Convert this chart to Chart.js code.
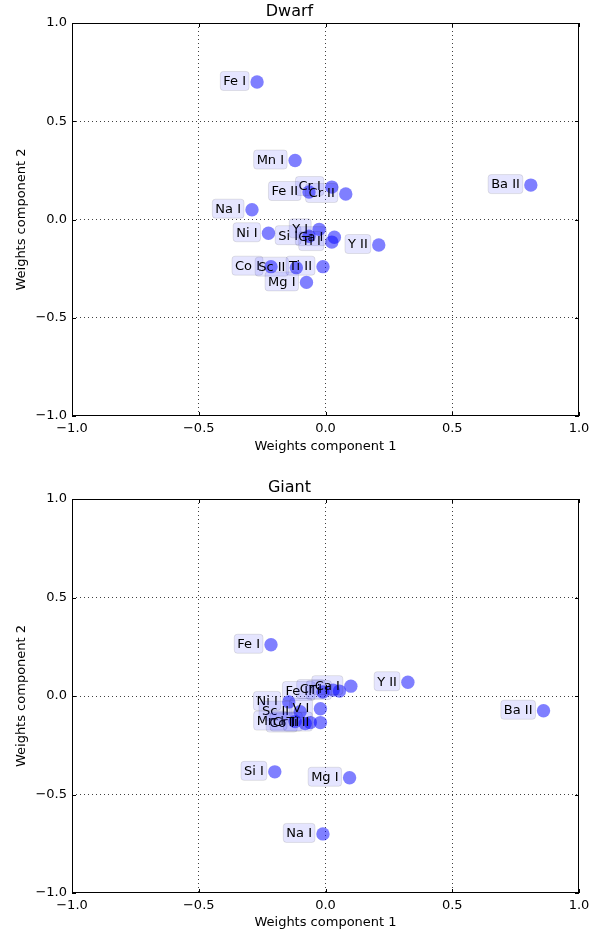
<!DOCTYPE html>
<html>
<head>
<meta charset="utf-8">
<script src="https://cdn.jsdelivr.net/npm/chart.js@4.4.0/dist/chart.umd.min.js"></script>
<style>
  body { margin: 0; background: #fff; }
  canvas { display: block; }
</style>
</head>
<body>
<canvas id="dwarf" width="606" height="466"></canvas>
<canvas id="giant" width="606" height="467"></canvas>
<script>
// Dwarf panel
const dwarfLabels = ['Fe I', 'Mn I', 'Cr I', 'Fe II', 'Cr II', 'Na I', 'Ba II', 'Ni I', 'Si I',
                     'Y I', 'Ca I', 'Ti I', 'Y II', 'Co I', 'Sc II', 'Ti II', 'Mg I'];
const dwarfX = [-0.27, -0.12, 0.025, -0.065, 0.08, -0.29, 0.81, -0.225, -0.065,
                -0.025, 0.035, 0.025, 0.21, -0.215, -0.115, -0.01, -0.075];
const dwarfY = [0.70, 0.30, 0.165, 0.14, 0.13, 0.05, 0.175, -0.07, -0.085,
                -0.05, -0.09, -0.115, -0.13, -0.24, -0.245, -0.24, -0.32];

// Giant panel
const giantLabels = ['Fe I', 'Y II', 'Ba II', 'Si I', 'Mg I', 'Na I', 'Ni I', 'V I', 'Sc II',
                     'Mn I', 'Co I', 'Cr II', 'Ti II', 'Fe II', 'Cr I', 'Ti I', 'Ca I'];
const giantX = [-0.215, 0.325, 0.86, -0.20, 0.095, -0.01, -0.145, -0.02, -0.10,
                -0.12, -0.08, -0.06, -0.02, -0.01, 0.03, 0.055, 0.10];
const giantY = [0.26, 0.07, -0.075, -0.385, -0.415, -0.70, -0.03, -0.065, -0.08,
                -0.13, -0.14, -0.135, -0.135, 0.02, 0.03, 0.025, 0.05];

const tickValues = [-1, -0.5, 0, 0.5, 1];

const FONT = 'DejaVu Sans';

function fmtTick(v) {
    return v.toFixed(1).replace('-', '\u2212');
}

// ── labels in rounded boxes, to the left of each point ──
const pointLabels = {
    id: 'pointLabels',
    afterDatasetsDraw(chart, args, opts) {
        const ctx = chart.ctx;
        const meta = chart.getDatasetMeta(0);
        ctx.save();
        ctx.font = '13px "' + FONT + '"';
        ctx.textAlign = 'right';
        ctx.textBaseline = 'middle';
        meta.data.forEach((pt, i) => {
            const text = opts.labels[i];
            const w = ctx.measureText(text).width;
            const right = pt.x - 11;
            const bx = right - w - 3, by = pt.y - 10.5, bw = w + 6, bh = 19, r = 3;
            ctx.beginPath();
            ctx.moveTo(bx + r, by);
            ctx.lineTo(bx + bw - r, by);
            ctx.quadraticCurveTo(bx + bw, by, bx + bw, by + r);
            ctx.lineTo(bx + bw, by + bh - r);
            ctx.quadraticCurveTo(bx + bw, by + bh, bx + bw - r, by + bh);
            ctx.lineTo(bx + r, by + bh);
            ctx.quadraticCurveTo(bx, by + bh, bx, by + bh - r);
            ctx.lineTo(bx, by + r);
            ctx.quadraticCurveTo(bx, by, bx + r, by);
            ctx.closePath();
            ctx.fillStyle = 'rgba(0,0,255,0.1)';
            ctx.fill();
            ctx.strokeStyle = 'rgba(0,0,0,0.1)';
            ctx.lineWidth = 1;
            ctx.stroke();
            ctx.fillStyle = '#000';
            ctx.fillText(text, right, pt.y);
        });
        ctx.restore();
    }
};

// ── frame on all four sides with inward ticks ──
const frame = {
    id: 'frame',
    afterDatasetsDraw(chart) {
        const {ctx, chartArea: a, scales} = chart;
        ctx.save();
        ctx.strokeStyle = '#000';
        ctx.lineWidth = 1;
        ctx.beginPath();
        tickValues.forEach(v => {
            const x = Math.round(scales.x.getPixelForValue(v)) + 0.5;
            const y = Math.round(scales.y.getPixelForValue(v)) + 0.5;
            ctx.moveTo(x, a.top); ctx.lineTo(x, a.top + 4);
            ctx.moveTo(x, a.bottom); ctx.lineTo(x, a.bottom - 4);
            ctx.moveTo(a.left, y); ctx.lineTo(a.left + 4, y);
            ctx.moveTo(a.right, y); ctx.lineTo(a.right - 4, y);
        });
        ctx.stroke();
        ctx.strokeRect(Math.round(a.left) + 0.5, Math.round(a.top) + 0.5,
                       Math.round(a.right - a.left) - 1, Math.round(a.bottom - a.top) - 1);
        ctx.restore();
    }
};

function makeChart(id, title, labels, xs, ys, lay) {
    const gridColor = c => (c.tick && Math.abs(c.tick.value) === 1) ? 'rgba(0,0,0,0)' : 'rgba(0,0,0,0.75)';
    return new Chart(document.getElementById(id), {
        type: 'scatter',
        data: {
            datasets: [{
                data: xs.map((x, i) => ({ x: x, y: ys[i] })),
                backgroundColor: 'rgba(0,0,255,0.5)',
                borderWidth: 0,
                pointRadius: 6.7,
                pointHoverRadius: 6.7,
            }],
        },
        options: {
            responsive: false,
            animation: false,
            events: [],
            layout: { padding: { left: 0, right: 27, top: 0, bottom: 0 } },
            plugins: {
                legend: { display: false },
                tooltip: { enabled: false },
                title: {
                    display: true,
                    text: title,
                    color: '#000',
                    font: { family: FONT, size: 16, weight: 'normal', lineHeight: 1.125 },
                    padding: { top: lay.titleTop, bottom: 2 },
                },
                pointLabels: { labels: labels },
            },
            scales: {
                x: {
                    type: 'linear',
                    min: -1, max: 1,
                    afterBuildTicks: s => { s.ticks = tickValues.map(v => ({ value: v })); },
                    afterFit: s => { s.height = lay.xHeight; },
                    ticks: {
                        color: '#000',
                        padding: 5,
                        maxRotation: 0,
                        font: { family: FONT, size: 13 },
                        callback: v => fmtTick(v),
                    },
                    grid: { color: gridColor, lineWidth: 1, drawTicks: false },
                    border: { display: false, dash: [1, 3] },
                    title: {
                        display: true,
                        text: 'Weights component 1',
                        color: '#000',
                        font: { family: FONT, size: 13 },
                        padding: { top: 0, bottom: lay.xTitleBottom },
                    },
                },
                y: {
                    type: 'linear',
                    min: -1, max: 1,
                    afterBuildTicks: s => { s.ticks = tickValues.map(v => ({ value: v })); },
                    afterFit: s => { s.width = 72; },
                    ticks: {
                        color: '#000',
                        padding: 5,
                        font: { family: FONT, size: 13 },
                        callback: v => fmtTick(v),
                    },
                    grid: { color: gridColor, lineWidth: 1, drawTicks: false },
                    border: { display: false, dash: [1, 3] },
                    title: {
                        display: true,
                        text: 'Weights component 2',
                        color: '#000',
                        font: { family: FONT, size: 13 },
                        padding: { top: 14, bottom: 0 },
                    },
                },
            },
        },
        plugins: [frame, pointLabels],
    });
}

makeChart('dwarf', 'Dwarf', dwarfLabels, dwarfX, dwarfY, { titleTop: 3, xHeight: 50, xTitleBottom: 12 });
makeChart('giant', 'Giant', giantLabels, giantX, giantY, { titleTop: 13, xHeight: 40, xTitleBottom: 3 });
</script>
</body>
</html>
